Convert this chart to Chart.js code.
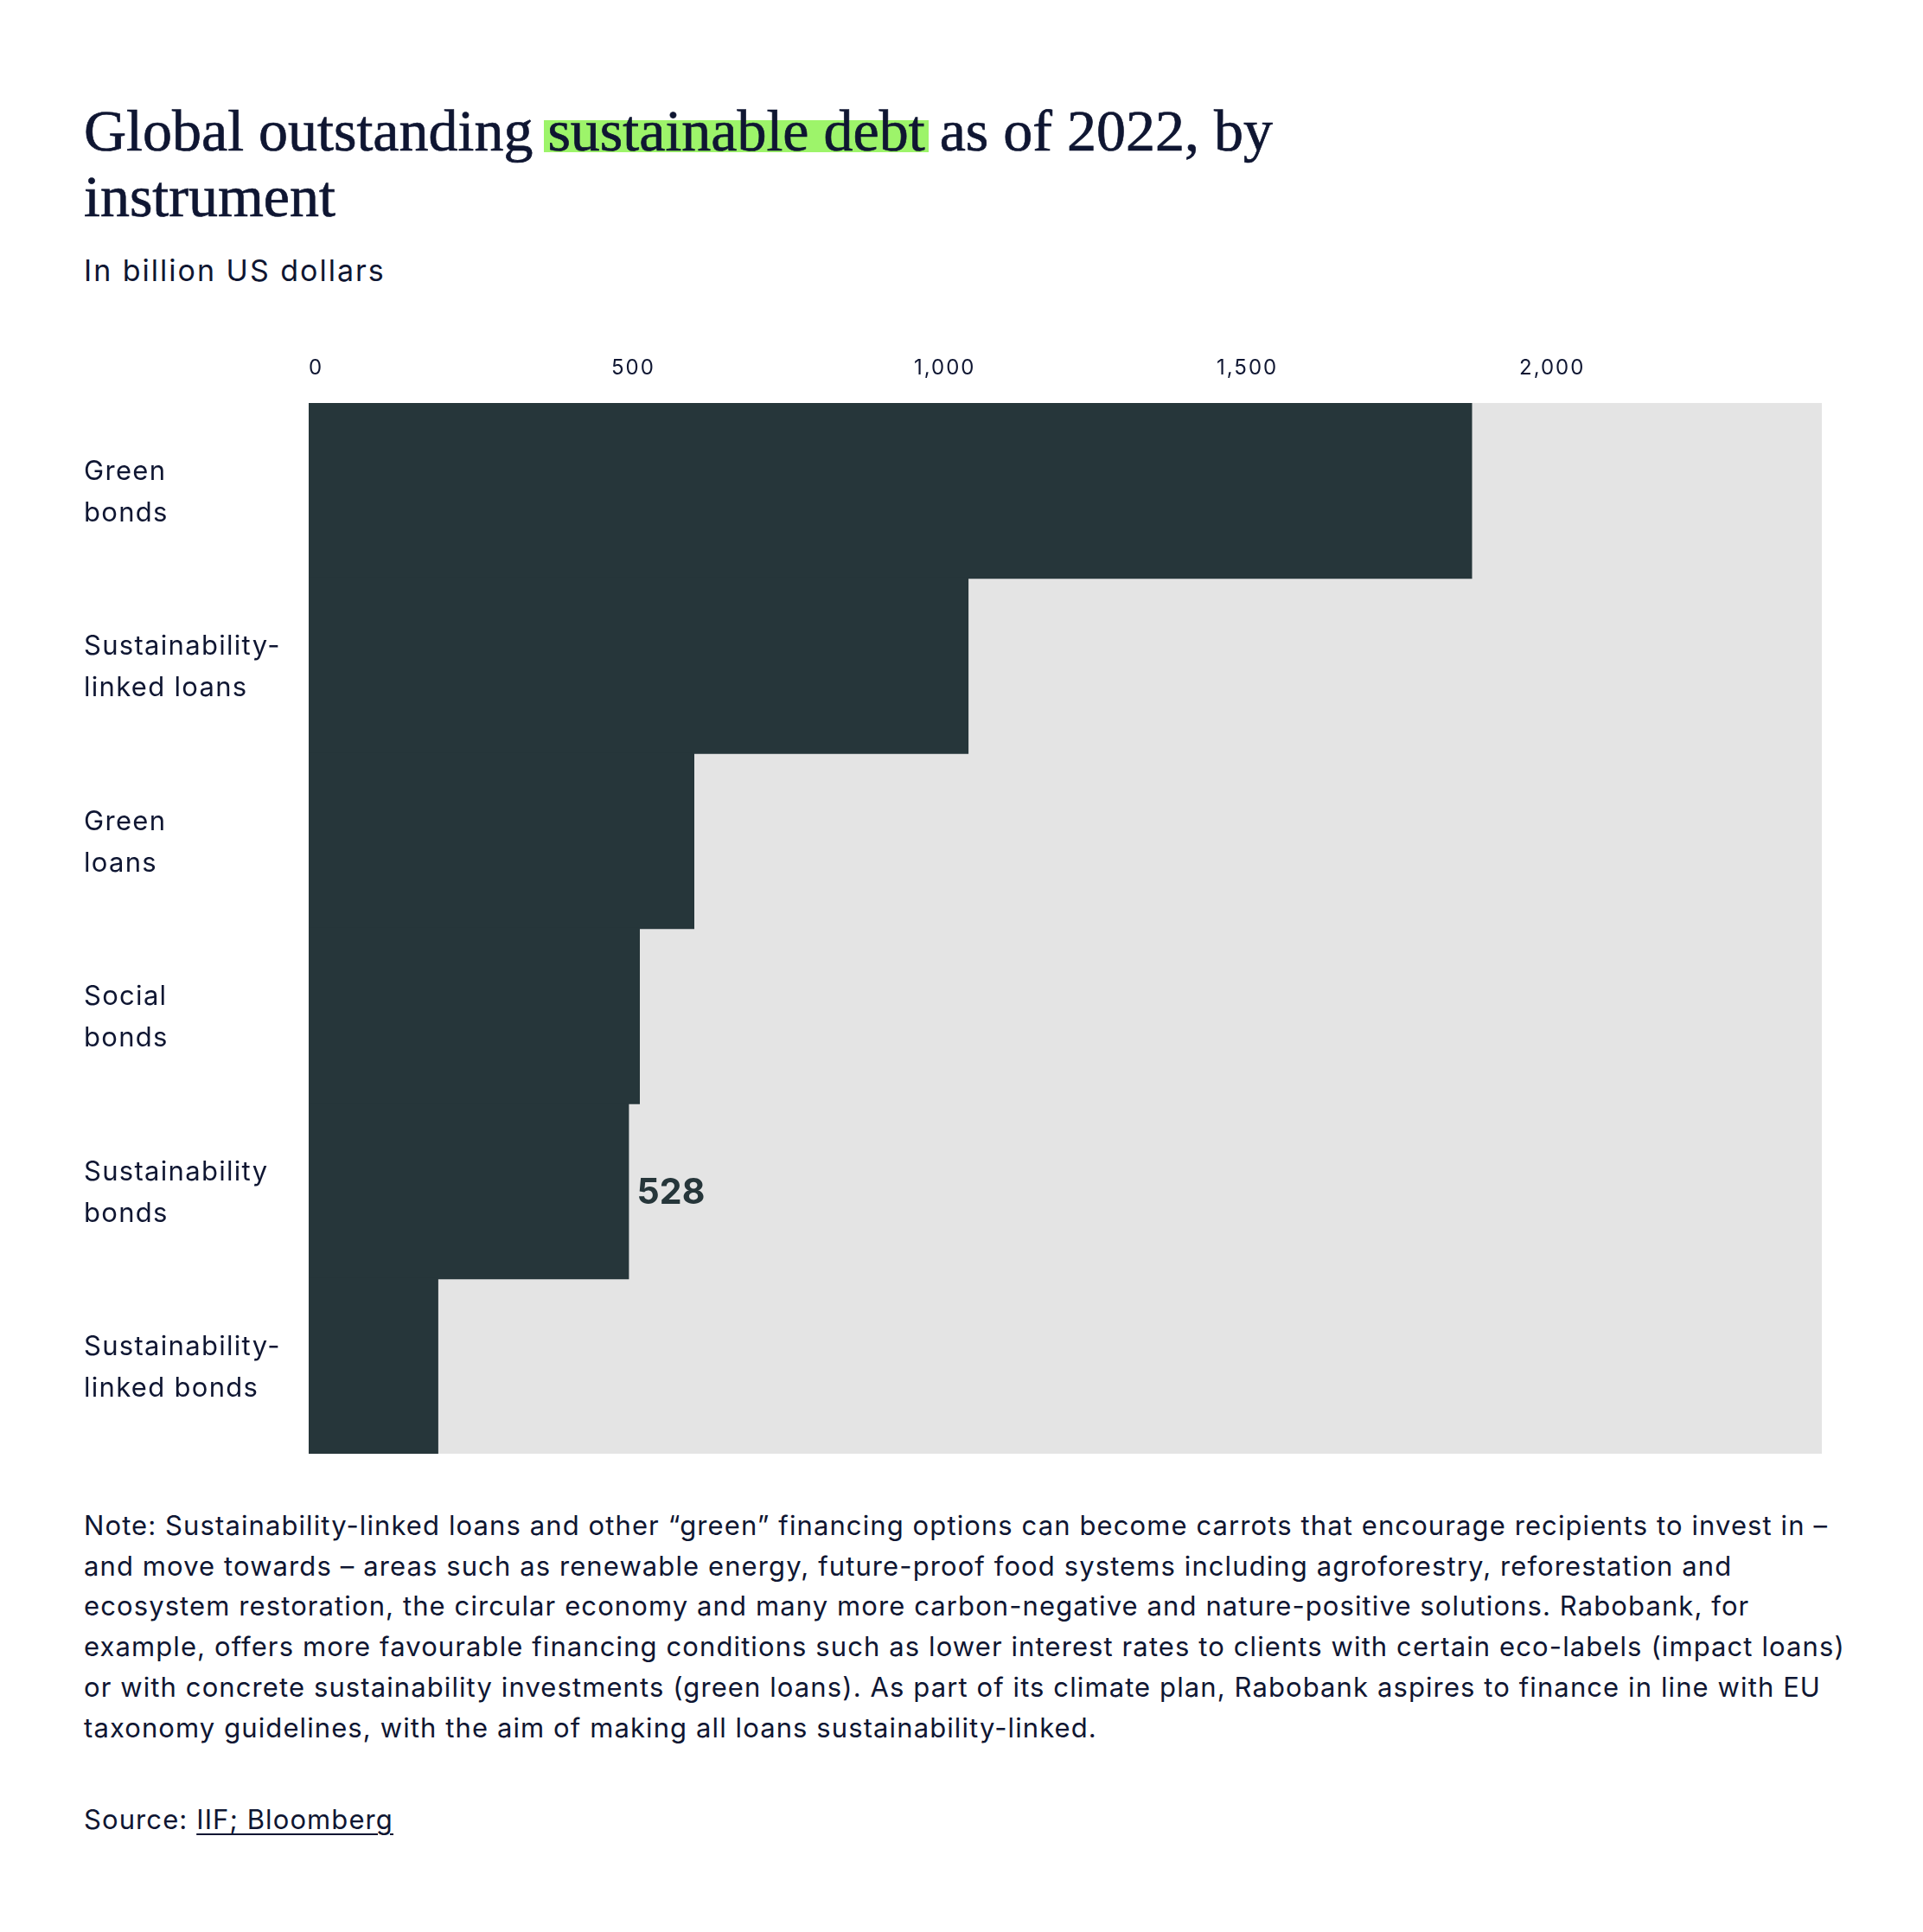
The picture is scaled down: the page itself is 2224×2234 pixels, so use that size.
<!DOCTYPE html>
<html>
<head>
<meta charset="utf-8">
<script src="https://cdn.jsdelivr.net/npm/chart.js@4.4.1/dist/chart.umd.min.js"></script>
<style>
  html, body { margin: 0; padding: 0; background: #ffffff; }
  body { width: 2224px; height: 2234px; position: relative; overflow: hidden; color: #0f1632; }
  #title { position: absolute; left: 97px; top: 113px; width: 1600px; font-family: "Liberation Serif", serif; font-size: 68px; line-height: 76px; font-weight: 400; color: #0f1632; -webkit-text-stroke: 0.7px #0f1632; }
  #title .hl { background: linear-gradient(to bottom, transparent 34%, #9df46a 34%, #9df46a 83.5%, transparent 83.5%); padding: 0 4px; margin: 0 -4px; }
  #subtitle { position: absolute; left: 97px; top: 293px; font-family: Inter, sans-serif; font-size: 34px; line-height: 40px; letter-spacing: 2px; color: #0f1632; }
  #wrap { position: absolute; left: 0; top: 0; width: 2224px; height: 1729px; }
  #note { position: absolute; left: 97px; top: 1741px; width: 2100px; font-family: Inter, sans-serif; font-size: 31px; line-height: 46.7px; letter-spacing: 1.1px; color: #0f1632; white-space: nowrap; }
  #source { position: absolute; left: 97px; top: 2081px; font-family: Inter, sans-serif; font-size: 31px; line-height: 46.7px; letter-spacing: 1.1px; color: #0f1632; }
  #source u { text-decoration-thickness: 2px; text-underline-offset: 5px; }
</style>
</head>
<body>
<div id="title">Global outstanding <span class="hl">sustainable debt</span> as of 2022, by<br>instrument</div>
<div id="subtitle">In billion US dollars</div>
<div id="wrap"><canvas id="c"></canvas></div>
<div id="note">Note: Sustainability-linked loans and other “green” financing options can become carrots that encourage recipients to invest in –<br>and move towards – areas such as renewable energy, future-proof food systems including agroforestry, reforestation and<br>ecosystem restoration, the circular economy and many more carbon-negative and nature-positive solutions. Rabobank, for<br>example, offers more favourable financing conditions such as lower interest rates to clients with certain eco-labels (impact loans)<br>or with concrete sustainability investments (green loans). As part of its climate plan, Rabobank aspires to finance in line with EU<br>taxonomy guidelines, with the aim of making all loans sustainability-linked.</div>
<div id="source">Source: <u>IIF; Bloomberg</u></div>
<script>
const categories = [
  ['Green', 'bonds'],
  ['Sustainability-', 'linked loans'],
  ['Green', 'loans'],
  ['Social', 'bonds'],
  ['Sustainability', 'bonds'],
  ['Sustainability-', 'linked bonds']
];
const values = [1921, 1089, 636, 546, 528, 213];
const xTickValues = [0, 500, 1000, 1500, 2000];
const xMax = 2500;
const labelledIndex = 4; // "Sustainability bonds" carries its value label

const BAR = '#26363a';
const TRACK = '#e4e4e4';
const TEXT = '#0f1632';

function withSpacing(scale, spacing) {
  if (scale._spacingPatched) return;
  scale._spacingPatched = true;
  const orig = scale.drawLabels;
  scale.drawLabels = function (area) {
    const ctx = this.ctx;
    const prev = ctx.letterSpacing;
    ctx.letterSpacing = spacing;
    orig.call(this, area);
    ctx.letterSpacing = prev || '0px';
  };
}

const trackPlugin = {
  id: 'track',
  beforeDatasetsDraw(chart) {
    const a = chart.chartArea, ctx = chart.ctx;
    ctx.save();
    ctx.fillStyle = TRACK;
    ctx.fillRect(a.left, a.top, a.right - a.left, a.bottom - a.top);
    ctx.restore();
  }
};

const valueLabelPlugin = {
  id: 'valueLabel',
  afterDatasetsDraw(chart) {
    const meta = chart.getDatasetMeta(0);
    const el = meta.data[labelledIndex];
    if (!el) return;
    const ctx = chart.ctx;
    ctx.save();
    ctx.font = '700 41px Inter, sans-serif';
    ctx.fillStyle = BAR;
    ctx.textAlign = 'left';
    ctx.textBaseline = 'middle';
    ctx.fillText(String(values[labelledIndex]), el.x + 10, el.y + 2);
    ctx.restore();
  }
};

new Chart(document.getElementById('c'), {
  type: 'bar',
  data: {
    labels: categories,
    datasets: [{
      data: values,
      backgroundColor: BAR,
      borderWidth: 0,
      inflateAmount: 0.8,
      barPercentage: 1,
      categoryPercentage: 1
    }]
  },
  options: {
    indexAxis: 'y',
    responsive: true,
    maintainAspectRatio: false,
    devicePixelRatio: 1,
    animation: false,
    layout: { padding: { left: 97, right: 117, top: 406, bottom: 0 } },
    plugins: { legend: { display: false }, tooltip: { enabled: false }, title: { display: false } },
    scales: {
      x: {
        position: 'top',
        min: 0,
        max: xMax,
        afterBuildTicks(scale) { scale.ticks = xTickValues.map(v => ({ value: v })); },
        afterFit(scale) { scale.height = 60; withSpacing(scale, '2px'); },
        grid: { display: false, drawTicks: false },
        border: { display: false },
        ticks: {
          align: 'start',
          padding: 26,
          color: TEXT,
          font: { family: 'Inter, sans-serif', size: 24, weight: '400', lineHeight: 1.2 },
          callback: v => Number(v).toLocaleString('en-US')
        }
      },
      y: {
        afterFit(scale) { scale.width = 260; withSpacing(scale, '1.3px'); },
        grid: { display: false, drawTicks: false },
        border: { display: false },
        ticks: {
          crossAlign: 'far',
          padding: 0,
          labelOffset: 2,
          color: TEXT,
          font: { family: 'Inter, sans-serif', size: 31, weight: '400', lineHeight: 1.55 }
        }
      }
    }
  },
  plugins: [trackPlugin, valueLabelPlugin]
});
</script>
</body>
</html>
